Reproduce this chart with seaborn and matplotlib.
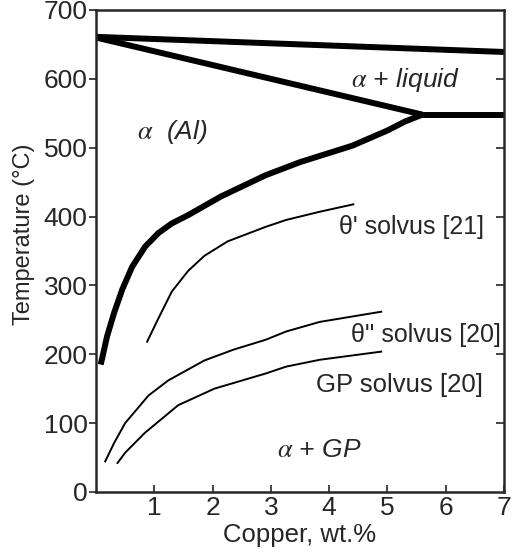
import numpy as np
import pandas as pd
import matplotlib
matplotlib.use("Agg")
import matplotlib.pyplot as plt
import seaborn as sns

sns.set_style("ticks")
plt.rcParams['font.family'] = ['Liberation Sans', 'DejaVu Sans']
plt.rcParams['mathtext.fontset'] = 'stix'

# phase boundaries (Cu wt.%, temperature in C)
liquidus_cu = [0.0, 5.6]
liquidus_t = [660, 548]
top_cu = [0.0, 7.0]
top_t = [661, 639]
eutectic_cu = [5.6, 7.0]
eutectic_t = [548, 548]
solvus_cu = [0.08, 0.10, 0.19, 0.31, 0.45, 0.62, 0.84, 1.07, 1.30, 1.58, 2.14,
             2.91, 3.5, 4.4, 5.0, 5.3, 5.6]
solvus_t = [185, 192, 226, 260, 294, 327, 356, 376, 390, 402, 429,
            460, 479, 503, 525, 538, 548]
theta1_cu = [0.87, 1.07, 1.30, 1.58, 1.86, 2.26, 2.91, 3.26, 3.84, 4.43]
theta1_t = [217, 252, 291, 321, 343, 364, 385, 395, 407, 418]
theta2_cu = [0.15, 0.31, 0.50, 0.90, 1.24, 1.86, 2.37, 2.91, 3.26, 3.84, 4.91]
theta2_t = [43, 71, 100, 140, 162, 191, 207, 221, 233, 247, 262]
gp_cu = [0.36, 0.50, 0.84, 1.41, 2.03, 2.91, 3.26, 3.84, 4.91]
gp_t = [41, 57, 86, 126, 150, 172, 182, 192, 204]

fig = plt.figure(figsize=(5.12, 5.54), dpi=100)
ax = fig.add_axes([0.1875, 0.112, 0.797, 0.87])

thick = 4.3
thin = 1.4
for cu, t, lw in [(liquidus_cu, liquidus_t, thick), (top_cu, top_t, thick),
                  (eutectic_cu, eutectic_t, thick), (solvus_cu, solvus_t, thick),
                  (theta1_cu, theta1_t, thin), (theta2_cu, theta2_t, thin),
                  (gp_cu, gp_t, thin)]:
    df = pd.DataFrame({'Cu': cu, 'T': t})
    sns.lineplot(data=df, x='Cu', y='T', ax=ax, sort=False, color='black',
                 linewidth=lw, solid_capstyle='butt', solid_joinstyle='round')

ax.set_xlim(0, 7)
ax.set_ylim(0, 700)
ax.set_xticks(range(1, 8))
ax.set_yticks(range(0, 701, 100))
ax.tick_params(axis='x', direction='in', length=5, width=1.2, labelsize=19, pad=3)
ax.tick_params(axis='y', direction='out', length=5, width=1.2, labelsize=19, pad=1)
ax.set_xlabel('Copper, wt.%', fontsize=18.5, labelpad=2)
ax.set_ylabel('Temperature (°C)', fontsize=17)
ax.yaxis.set_label_coords(-0.15, 0.535)
for s in ax.spines.values():
    s.set_linewidth(1.8)

ax2 = ax.twinx()
ax2.set_ylim(0, 700)
ax2.set_yticks(range(100, 700, 100))
ax2.tick_params(axis='y', direction='in', length=6, width=1.2, labelright=False)
for s in ax2.spines.values():
    s.set_visible(False)

fs = 19
ax.text(0.70, 523, r'$\alpha$  (Al)', fontsize=fs, style='italic', va='center')
ax.text(4.37, 598, r'$\alpha$ + liquid', fontsize=fs, style='italic', va='center')
ax.text(4.17, 385, "θ' solvus [21]", fontsize=18, va='center')
ax.text(4.37, 228, "θ'' solvus [20]", fontsize=18, va='center')
ax.text(3.77, 155, "GP solvus [20]", fontsize=18.5, va='center')
ax.text(3.10, 61, r'$\alpha$ + GP', fontsize=fs, style='italic', va='center')

fig.savefig('out.png', dpi=100)
